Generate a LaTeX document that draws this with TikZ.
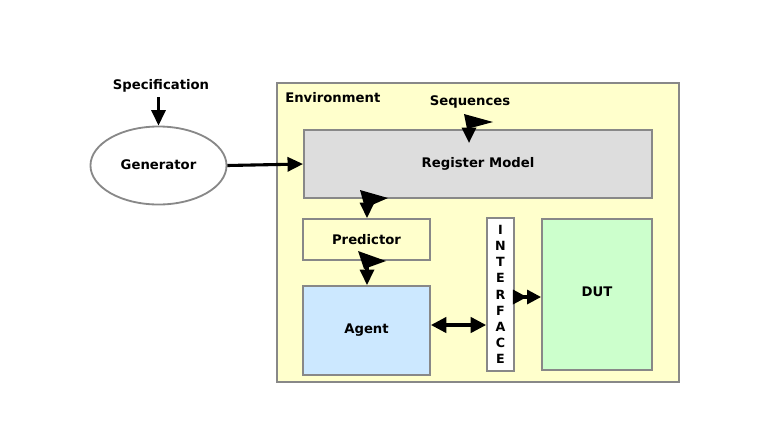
\documentclass[tikz,border=0pt]{standalone}
\usepackage{fontspec}
\setmainfont{DejaVu Sans}
\usetikzlibrary{arrows.meta,shapes.geometric}
\definecolor{envyellow}{HTML}{FFFFCC}
\definecolor{reggray}{HTML}{DDDDDD}
\definecolor{agentblue}{HTML}{CCE8FF}
\definecolor{dutgreen}{HTML}{CCFFCC}
\definecolor{edgegray}{HTML}{888888}
\tikzset{
  box/.style={draw=edgegray, line width=1.3pt, inner sep=0pt,
    font=\bfseries\fontsize{9.4}{11}\selectfont},
  lbl/.style={inner sep=0pt, font=\bfseries\fontsize{9.4}{11}\selectfont},
  arr/.style={line width=2.2pt, -{Triangle[length=11pt,width=10pt]}},
  darr/.style={line width=2.2pt, {Triangle[length=11pt,width=11pt]}-{Triangle[length=11pt,width=11pt]}},
  flag/.style={fill=black}
}
\begin{document}
\begin{tikzpicture}[x=0.025cm,y=-0.025cm]
\useasboundingbox (0,0) rectangle (768,443);

% outer box
\node[box, fill=envyellow, minimum width=10.05cm, minimum height=7.475cm] (env) at (478,232.5) {};
\node[lbl, anchor=west] (envtxt) at (285,98) {Environment};

% blocks
\node[box, fill=reggray, minimum width=8.7cm, minimum height=1.7cm] (reg) at (478,164) {\raisebox{1.5pt}{Register Model}};
\node[box, fill=envyellow, minimum width=3.175cm, minimum height=1.025cm] (pred) at (366.5,239.5) {Predictor};
\node[box, fill=agentblue, minimum width=3.175cm, minimum height=2.225cm] (agent) at (366.5,330.5) {\raisebox{2.5pt}{Agent}};
\node[box, fill=white, minimum width=0.675cm, minimum height=3.825cm, align=center,
  font=\bfseries\fontsize{9}{11.5}\selectfont] (intf) at (500.5,294.5) {I\\N\\T\\E\\R\\F\\A\\C\\E};
\node[box, fill=dutgreen, minimum width=2.75cm, minimum height=3.775cm] (dut) at (597,294.5) {\raisebox{4.5pt}{DUT}};

\node[ellipse, draw=edgegray, line width=1.3pt, fill=white, minimum width=3.4cm, minimum height=1.95cm,
  font=\bfseries\fontsize{9.4}{11}\selectfont] (gen) at (158.5,165.5) {\raisebox{2pt}{Generator}};
\node[lbl] (spec) at (161,86) {Specification};
\node[lbl] (seq) at (470,102) {Sequences};

% connectors
\coordinate (s0) at (158.5,97);
\draw[arr] (s0) -- (gen.north);
\draw[arr] (gen.east) -- (reg.west);

\coordinate (q0) at (469,118);
\draw[arr] (q0) -- (469,143);
\fill[flag] (464,114) -- (493,122) -- (467,129) -- cycle;

\coordinate (r0) at (367,195);
\draw[arr] (r0) -- (pred.north -| r0);
\fill[flag] (360,190) -- (388,198) -- (365,208) -- cycle;

\coordinate (p0) at (367,256);
\draw[arr] (p0) -- (agent.north -| p0);
\fill[flag] (358,251) -- (386,261) -- (364,269) -- cycle;

\draw[darr] (agent.east |- 0,325) -- (intf.west |- 0,325);
\draw[line width=2.2pt, -{Triangle[length=10pt,width=10pt]Triangle[length=10pt,width=10pt]}]
  (intf.east |- 0,297) -- (dut.west |- 0,297);
\end{tikzpicture}
\end{document}
